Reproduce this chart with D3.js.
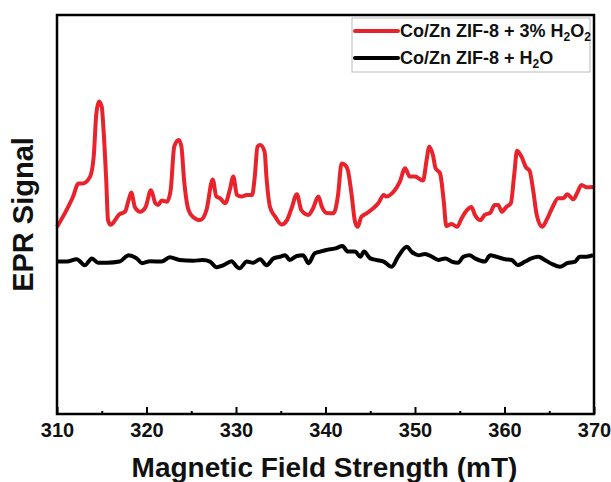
<!DOCTYPE html>
<html>
<head>
<meta charset="utf-8">
<script src="https://cdn.jsdelivr.net/npm/d3@7"></script>
<style>
  body { margin: 0; background: #fff; }
  text { font-family: "Liberation Sans", Arial, sans-serif; font-weight: bold; fill: #111; }
</style>
</head>
<body>
<div id="chart"></div>
<script>
// field (mT) and signal (a.u.)
var fieldH2O2 = [310.0, 310.9, 311.8, 312.4, 312.9, 313.7, 314.1, 314.4, 314.7, 315.0, 315.2, 315.5, 315.7, 316.0, 316.5, 316.9,
  317.6, 318.0, 318.3, 318.7, 319.3, 319.9, 320.5, 321.0, 321.3, 321.7, 322.3, 322.7, 323.1, 323.6, 323.9, 324.2, 324.7, 325.2,
  326.0, 326.7, 327.4, 327.8, 328.2, 328.8, 329.3, 329.7, 330.1, 330.6, 331.2, 331.8, 332.1, 332.4, 332.7, 333.2, 333.4, 333.8,
  334.4, 335.1, 335.7, 336.2, 336.8, 337.3, 338.1, 338.6, 339.2, 339.6, 340.1, 340.9, 341.4, 341.8, 342.2, 342.5, 342.9, 343.3,
  343.6, 344.0, 344.6, 345.3, 345.9, 346.5, 346.8, 347.6, 348.3, 348.9, 349.4, 350.0, 350.9, 351.3, 351.6, 352.0, 352.3, 352.8,
  353.2, 353.5, 354.1, 354.7, 355.2, 355.8, 356.3, 356.7, 357.3, 357.8, 358.4, 358.9, 359.3, 359.7, 360.2, 360.7, 361.1, 361.4,
  361.9, 362.4, 362.8, 363.2, 363.6, 364.2, 364.7, 365.3, 366.0, 366.6, 367.0, 367.7, 368.1, 368.6, 369.2, 369.9];
var signalH2O2 = [46.9, 50.4, 54.5, 57.8, 57.8, 59.5, 64.5, 75.4, 78.3, 77.0, 71.2, 58.6, 48.6, 47.4, 48.6, 49.9,
  50.7, 53.6, 55.5, 51.9, 50.7, 51.9, 56.1, 52.8, 52.4, 53.5, 53.2, 56.1, 67.0, 68.7, 67.0, 58.6, 51.1, 49.4,
  48.6, 51.1, 58.8, 54.5, 54.1, 52.8, 56.1, 59.5, 54.9, 54.5, 54.9, 54.9, 59.5, 67.0, 67.4, 65.7, 59.5, 51.9,
  49.4, 47.5, 48.6, 51.5, 55.1, 51.1, 49.9, 51.5, 54.5, 51.9, 50.4, 50.3, 54.9, 62.8, 62.4, 61.1, 55.3, 48.2,
  46.9, 49.4, 50.3, 51.5, 52.8, 54.9, 54.5, 55.7, 58.2, 61.6, 59.5, 59.5, 58.5, 63.7, 67.0, 64.9, 61.6, 60.3,
  53.6, 47.1, 47.6, 46.9, 49.0, 51.1, 51.9, 49.9, 48.6, 49.9, 50.4, 52.4, 52.4, 50.7, 51.9, 52.8, 60.3, 66.0,
  64.5, 61.8, 61.0, 56.1, 49.9, 46.9, 48.6, 51.5, 54.1, 54.1, 55.1, 53.8, 55.3, 57.4, 56.8, 56.9];

var fieldH2O = [310.0, 311.1, 312.2, 313.1, 313.9, 314.6, 315.6, 317.0, 318.0, 318.9, 319.5, 320.4, 321.7, 322.6, 323.7, 325.2,
  326.3, 327.1, 327.8, 328.6, 329.5, 330.1, 330.4, 331.2, 331.9, 332.7, 333.4, 334.2, 334.9, 335.5, 336.0, 336.8, 337.5, 338.1,
  338.8, 339.4, 340.1, 341.1, 341.9, 342.5, 343.3, 343.9, 344.3, 345.0, 345.7, 346.5, 347.4, 348.1, 349.1, 349.6, 350.4, 351.1,
  351.9, 352.6, 353.4, 354.1, 354.8, 355.4, 356.1, 356.7, 357.8, 358.4, 359.1, 360.1, 360.8, 361.5, 362.3, 363.0, 363.8, 364.5,
  365.3, 366.2, 367.0, 367.9, 368.4, 369.2, 369.9];
var signalH2O = [38.2, 38.2, 38.8, 37.3, 39.0, 37.9, 37.9, 38.2, 39.8, 39.0, 37.8, 38.3, 38.2, 39.3, 38.6, 38.4,
  38.6, 38.2, 36.8, 37.3, 38.3, 36.9, 36.5, 38.2, 37.9, 38.8, 37.3, 39.0, 39.4, 39.8, 38.6, 39.6, 39.8, 37.8,
  40.3, 40.7, 41.1, 41.5, 42.1, 40.7, 40.7, 39.4, 40.7, 39.0, 38.6, 38.2, 36.9, 39.4, 41.9, 40.7, 39.8, 40.1,
  39.4, 38.6, 39.0, 38.2, 37.9, 39.4, 39.8, 39.0, 38.2, 39.8, 39.4, 38.8, 38.6, 37.3, 38.2, 39.0, 39.4, 38.6,
  37.6, 36.9, 37.8, 38.2, 39.4, 39.4, 39.8];

var majorTicks = [310, 320, 330, 340, 350, 360, 370];
var minorTicks = [315, 325, 335, 345, 355, 365];
var seriesNames = ["Co/Zn ZIF-8 + 3% H", "Co/Zn ZIF-8 + H"];
var seriesColors = ["#e8232c", "#000000"];

var width = 611, height = 482;
var margin = { top: 15, right: 17, bottom: 68, left: 57 };
var w = width - margin.left - margin.right;
var h = height - margin.top - margin.bottom;

var svg = d3.select('#chart').append('svg')
  .attr('width', width)
  .attr('height', height);

var g = svg.append('g')
  .attr('transform', 'translate(' + margin.left + ',' + margin.top + ')');

var x = d3.scaleLinear().domain([310, 370]).range([0, w]);
var y = d3.scaleLinear().domain([0, 100]).range([h, 0]);

var line = d3.line()
  .x(function(d) { return x(d[0]); })
  .y(function(d) { return y(d[1]); })
  .curve(d3.curveMonotoneX);

var series = [
  d3.zip(fieldH2O2, signalH2O2),
  d3.zip(fieldH2O, signalH2O)
];

g.selectAll('path.trace')
  .data(series)
  .enter()
  .append('path')
  .attr('class', 'trace')
  .attr('d', line)
  .attr('fill', 'none')
  .attr('stroke', function(d, i) { return seriesColors[i]; })
  .attr('stroke-width', 4)
  .attr('stroke-linejoin', 'round');

// bottom axis, ticks pointing in
var xAxis = g.append('g')
  .attr('transform', 'translate(0,' + h + ')')
  .call(d3.axisBottom(x).tickValues(majorTicks).tickSize(-7).tickPadding(9).tickFormat(d3.format('d')));
xAxis.select('.domain').remove();
xAxis.selectAll('line').attr('stroke', '#000').attr('stroke-width', 2);
xAxis.selectAll('text').attr('font-size', 20).attr('fill', '#111')
  .style('font-family', '"Liberation Sans", Arial, sans-serif').style('font-weight', 'bold');

var xMinor = g.append('g')
  .attr('transform', 'translate(0,' + h + ')')
  .call(d3.axisBottom(x).tickValues(minorTicks).tickSize(-3).tickFormat(''));
xMinor.select('.domain').remove();
xMinor.selectAll('line').attr('stroke', '#000').attr('stroke-width', 2);

// frame
g.append('rect')
  .attr('width', w)
  .attr('height', h)
  .attr('fill', 'none')
  .attr('stroke', '#000')
  .attr('stroke-width', 2.5);

// axis titles
svg.append('text')
  .attr('x', margin.left + w / 2 - 1)
  .attr('y', 477)
  .attr('text-anchor', 'middle')
  .attr('font-size', 28)
  .text('Magnetic Field Strength (mT)');

svg.append('text')
  .attr('transform', 'translate(33,' + (margin.top + h / 2) + ') rotate(-90)')
  .attr('text-anchor', 'middle')
  .attr('font-size', 29)
  .text('EPR Signal');

// legend
var legend = svg.append('g');
legend.append('rect')
  .attr('x', 352).attr('y', 18)
  .attr('width', 238).attr('height', 54)
  .attr('fill', '#fff')
  .attr('stroke', '#bbb')
  .attr('stroke-width', 1);

var items = legend.selectAll('g.item')
  .data(seriesNames)
  .enter()
  .append('g')
  .attr('class', 'item')
  .attr('transform', function(d, i) { return 'translate(355,' + (31 + i * 27) + ')'; });

items.append('line')
  .attr('x1', 0).attr('x2', 43)
  .attr('stroke', function(d, i) { return seriesColors[i]; })
  .attr('stroke-width', 4)
  .attr('stroke-linecap', 'round');

var labels = items.append('text')
  .attr('x', 45)
  .attr('y', 6)
  .attr('font-size', 18);

labels.append('tspan').text(function(d) { return d; });
labels.append('tspan').attr('font-size', 12).attr('dy', 4).text('2');
labels.append('tspan').attr('dy', -4).text('O');
labels.filter(function(d, i) { return i === 0; })
  .append('tspan').attr('font-size', 12).attr('dy', 4).text('2');
</script>
</body>
</html>
